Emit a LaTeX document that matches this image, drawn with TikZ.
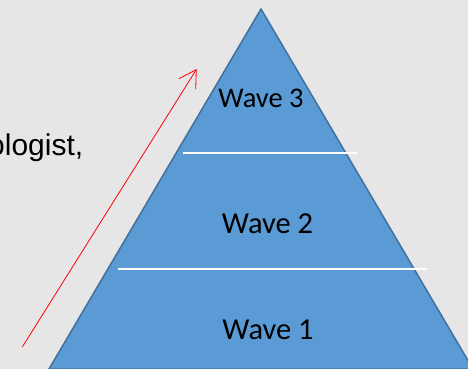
\documentclass[tikz,border=0pt]{standalone}
\usepackage{fontspec}
\setmainfont{Carlito}
\newfontfamily\arialfont{Liberation Sans}
\usetikzlibrary{arrows.meta}
\definecolor{bg}{HTML}{E6E6E6}
\definecolor{pyrfill}{HTML}{5B9BD5}
\definecolor{pyrline}{HTML}{41719C}
\begin{document}
\begin{tikzpicture}[x=1pt,y=-1pt,
  wave/.style={anchor=base,inner sep=0pt,text=black},
  divider/.style={white,line width=1.3pt},
  tier/.style={fill=pyrfill,draw=pyrline,line width=1.5pt,line join=miter},
  risearrow/.style={red,line width=0.8pt,-{Straight Barb[length=17pt,width=20pt]}}]
\useasboundingbox (0,0) rectangle (468,369);
\clip (0,0) rectangle (468,369);
\fill[bg] (0,0) rectangle (468,369);
\coordinate (apex) at (261,9);
\coordinate (bl) at (49,369);
\coordinate (br) at (473,369);
\filldraw[tier] (apex) -- (br) -- (bl) -- cycle;
\coordinate (d1a) at (183,153);
\coordinate (d1b) at (357,153);
\coordinate (d2a) at (118,269);
\coordinate (d2b) at (427,269);
\draw[divider] (d1a) -- (d1b);
\draw[divider] (d2a) -- (d2b);
\node[wave,font=\fontsize{28.5}{33}\selectfont] (w3) at (261,107) {Wave 3};
\node[wave,font=\fontsize{30.5}{36}\selectfont] (w2) at (267.5,233) {Wave 2};
\node[wave,font=\fontsize{30.5}{36}\selectfont] (w1) at (268,339) {Wave 1};
\node[anchor=base west,inner sep=0pt,font=\arialfont\fontsize{30}{35}\selectfont] (side) at (-12,155) {ologist,};
\coordinate (a0) at (22.3,347);
\coordinate (a1) at (196.7,69);
\draw[risearrow] (a0) -- (a1);
\end{tikzpicture}
\end{document}
